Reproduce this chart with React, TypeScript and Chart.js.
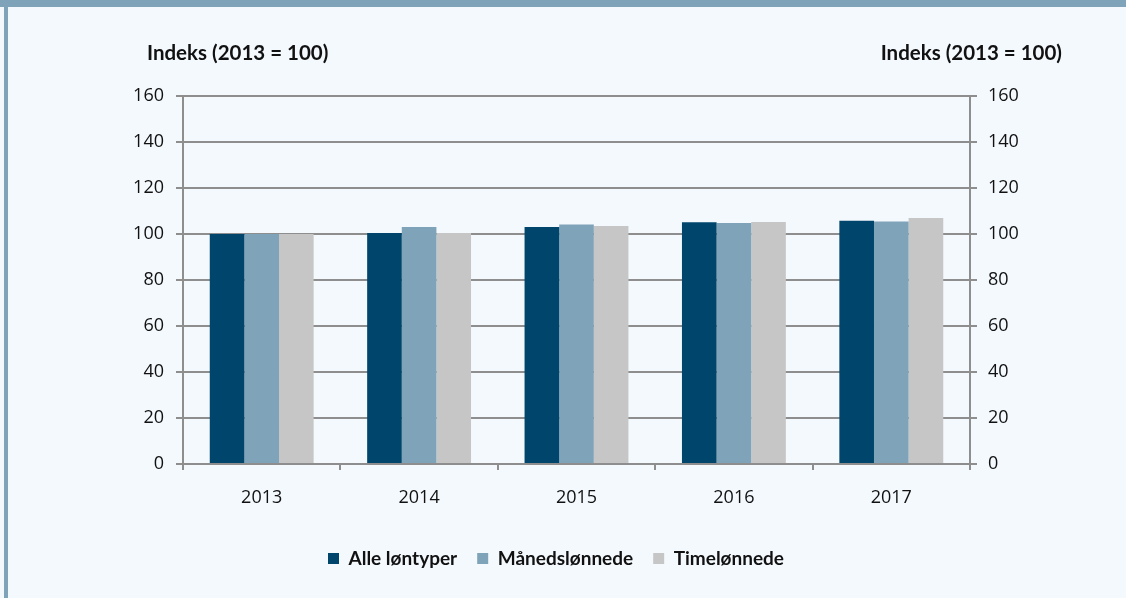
import React, { useEffect, useRef } from "react";
import { Chart, registerables } from "chart.js";

Chart.register(...registerables);

const categories = ["2013", "2014", "2015", "2016", "2017"];
const seriesNames = ["Alle løntyper", "Månedslønnede", "Timelønnede"];
const alleLontyper = [100, 100.4, 103.0, 105.1, 105.8];
const manedslonnede = [100, 103.0, 104.1, 104.8, 105.4];
const timelonnede = [100, 100.4, 103.5, 105.2, 107.0];
const seriesColors = ["#00456B", "#7FA3B8", "#C6C6C6"];
const axisTitleLeft = "Indeks (2013 = 100)";
const axisTitleRight = "Indeks (2013 = 100)";
const yMin = 0;
const yMax = 160;
const yStep = 20;

const GRID = "#8E8E8E";
const TEXT = "#111111";
const TICK_FONT = { family: "'Open Sans', sans-serif", size: 18 };
const BOLD_FONT = "bold 20.5px Lato, sans-serif";

const titlesPlugin = {
  id: "axisTitles",
  afterDraw(chart: any) {
    const { ctx, chartArea } = chart;
    ctx.save();
    ctx.font = BOLD_FONT;
    ctx.fillStyle = TEXT;
    ctx.textBaseline = "middle";
    ctx.textAlign = "left";
    ctx.fillText(axisTitleLeft, chartArea.left - 36, chartArea.top - 43);
    ctx.textAlign = "right";
    ctx.fillText(axisTitleRight, chartArea.right + 92, chartArea.top - 43);
    ctx.restore();
  },
};

function BarChart() {
  const ref = useRef<HTMLCanvasElement | null>(null);
  useEffect(() => {
    if (!ref.current) return;
    const chart = new Chart(ref.current, {
      type: "bar",
      data: {
        labels: categories,
        datasets: [
          { label: seriesNames[0], data: alleLontyper, backgroundColor: seriesColors[0], yAxisID: "y" },
          { label: seriesNames[1], data: manedslonnede, backgroundColor: seriesColors[1], yAxisID: "y" },
          { label: seriesNames[2], data: timelonnede, backgroundColor: seriesColors[2], yAxisID: "y" },
        ],
      },
      options: {
        animation: false,
        responsive: false,
        maintainAspectRatio: false,
        datasets: { bar: { categoryPercentage: 0.66, barPercentage: 1.0, borderWidth: 0 } },
        layout: { padding: { top: 89, left: 0, right: 22, bottom: 20 } },
        plugins: {
          tooltip: { enabled: false },
          title: { display: false },
          legend: {
            display: true,
            position: "bottom",
            labels: {
              boxWidth: 11,
              boxHeight: 11,
              padding: 20,
              color: TEXT,
              font: { family: "Lato, sans-serif", size: 19, weight: "bold" },
            },
          },
        },
        scales: {
          x: {
            offset: true,
            grid: {
              display: true,
              offset: true,
              drawOnChartArea: false,
              drawTicks: true,
              tickLength: 6,
              color: GRID,
              lineWidth: 2,
            },
            border: { display: true, color: GRID, width: 2 },
            ticks: { color: TEXT, font: TICK_FONT, padding: 17 },
            afterFit(scale: any) {
              scale.height = 65;
            },
          },
          y: {
            position: "left",
            min: yMin,
            max: yMax,
            ticks: { stepSize: yStep, color: TEXT, font: TICK_FONT, padding: 12 },
            grid: { color: GRID, lineWidth: 2, tickLength: 7, drawTicks: true },
            border: { display: true, color: GRID, width: 2 },
            afterFit(scale: any) {
              scale.width = 175;
            },
          },
          y2: {
            position: "right",
            min: yMin,
            max: yMax,
            ticks: { stepSize: yStep, color: TEXT, font: TICK_FONT, padding: 11 },
            grid: { drawOnChartArea: false, color: GRID, lineWidth: 2, tickLength: 7, drawTicks: true },
            border: { display: true, color: GRID, width: 2 },
            afterFit(scale: any) {
              scale.width = 134;
            },
          },
        },
      },
      plugins: [titlesPlugin],
    });
    return () => chart.destroy();
  }, []);
  return <canvas ref={ref} width={1118} height={591} style={{ display: "block", width: 1118, height: 591 }} />;
}

export default function App() {
  return (
    <div style={{ position: "fixed", left: 0, top: 0, width: 1126, height: 598, background: "#F4F9FD", overflow: "hidden" }}>
      <div style={{ position: "absolute", left: 0, top: 0, width: 1126, height: 7, background: "#7FA3B8" }} />
      <div style={{ position: "absolute", left: 4, top: 7, width: 4, height: 591, background: "#7FA3B8" }} />
      <div style={{ position: "absolute", left: 8, top: 7 }}>
        <BarChart />
      </div>
    </div>
  );
}
